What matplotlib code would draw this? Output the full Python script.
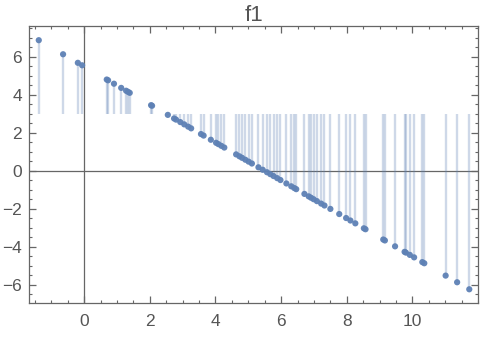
import matplotlib.pyplot as plt
from matplotlib.ticker import MultipleLocator, FixedLocator

plt.rcParams['font.family'] = ['Liberation Sans', 'DejaVu Sans']

# sample points
xs = [-1.38, -0.64, -0.19, -0.06, 0.69, 0.73, 0.91, 1.13, 1.28, 1.34, 1.39,
      2.04, 2.07, 2.55, 2.74, 2.80, 2.93, 3.05, 3.17, 3.26, 3.56, 3.64, 3.86,
      4.02, 4.09, 4.18, 4.27, 4.63, 4.73, 4.81, 4.91, 5.01, 5.11, 5.31, 5.44,
      5.57, 5.67, 5.77, 5.88, 5.98, 6.16, 6.31, 6.40, 6.46, 6.71, 6.84, 6.91,
      6.99, 7.09, 7.22, 7.32, 7.50, 7.77, 7.98, 8.11, 8.26, 8.52, 8.57, 9.11,
      9.16, 9.47, 9.76, 9.80, 9.92, 10.05, 10.30, 10.36, 11.01, 11.36, 11.73]
ys = [6.88, 6.14, 5.69, 5.56, 4.81, 4.77, 4.59, 4.37, 4.22, 4.16, 4.11,
      3.46, 3.43, 2.95, 2.76, 2.70, 2.57, 2.45, 2.33, 2.24, 1.94, 1.86, 1.64,
      1.48, 1.41, 1.32, 1.23, 0.87, 0.77, 0.69, 0.59, 0.49, 0.39, 0.19, 0.06,
      -0.07, -0.17, -0.27, -0.38, -0.48, -0.66, -0.81, -0.90, -0.96, -1.21, -1.34, -1.41,
      -1.49, -1.59, -1.72, -1.82, -2.00, -2.27, -2.48, -2.61, -2.76, -3.02, -3.07, -3.61,
      -3.66, -3.97, -4.26, -4.30, -4.42, -4.55, -4.80, -4.86, -5.51, -5.86, -6.23]
fill_level = 3
xticks = [0, 2, 4, 6, 8, 10]
yticks = [-6, -4, -2, 0, 2, 4, 6]

col = '#5e81b5'
fig = plt.figure(figsize=(4.82, 3.37), dpi=100)
ax = fig.add_axes([0.060, 0.101, 0.932, 0.822])

ax.vlines(xs, fill_level, ys, colors=col, alpha=0.3, linewidth=1.7, zorder=2)
ax.scatter(xs, ys, s=20, color=col, alpha=0.95, edgecolors='none', zorder=3)

ax.axhline(0, color='#666666', linewidth=0.9, zorder=1)
ax.axvline(0, color='#666666', linewidth=0.9, zorder=1)

ax.set_xlim(-1.68, 12.0)
ax.set_ylim(-6.95, 7.63)
ax.xaxis.set_major_locator(FixedLocator(xticks))
ax.xaxis.set_minor_locator(MultipleLocator(0.5))
ax.yaxis.set_major_locator(FixedLocator(yticks))
ax.yaxis.set_minor_locator(MultipleLocator(0.5))
ax.tick_params(which='both', direction='in', top=True, right=True,
               color='#666666', labelcolor='#555555', labelsize=12.5)
ax.tick_params(which='major', length=5, width=0.9)
ax.tick_params(which='minor', length=2.5, width=0.8)
ax.tick_params(axis='x', which='major', pad=8)
ax.tick_params(axis='y', which='major', pad=5)
for s in ax.spines.values():
    s.set_color('#666666')
    s.set_linewidth(0.9)

ax.set_title('f1', fontsize=16, color='#555555', pad=3)

fig.savefig('out.png')
